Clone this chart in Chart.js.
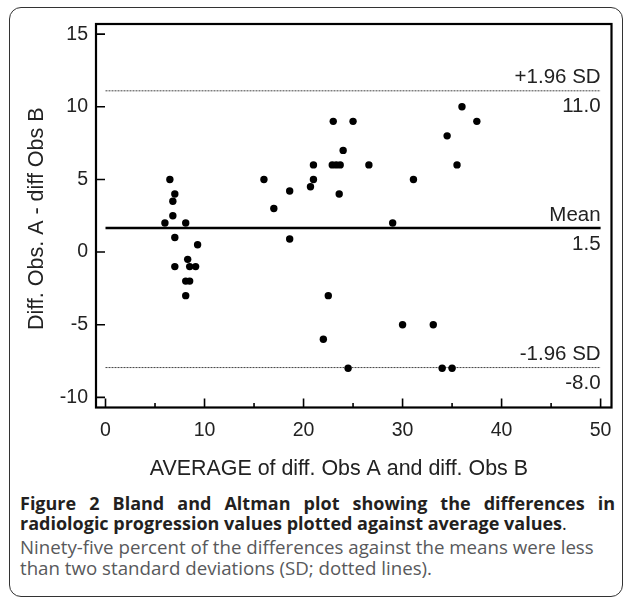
<!DOCTYPE html>
<html>
<head>
<meta charset="utf-8">
<script src="https://cdn.jsdelivr.net/npm/chart.js@4.4.0/dist/chart.umd.min.js"></script>
<style>
  html, body { margin: 0; padding: 0; background: #fff; }
  body { width: 627px; height: 600px; position: relative; overflow: hidden; }
  #frame {
    position: absolute; left: 9px; top: 7px; width: 614px; height: 590px;
    border: 1.5px solid #333; border-radius: 12px; box-sizing: border-box;
  }
  #chartBox { position: absolute; left: 0; top: 0; width: 627px; height: 490px; }
  .cap {
    position: absolute; left: 20px; white-space: nowrap;
    font-family: "Open Sans", sans-serif; line-height: 20px;
  }
  .bold { font-weight: 700; color: #231f20; font-size: 18px; }
  .reg { font-weight: 400; color: #58595b; font-size: 18.7px; }
  .just { width: 595px; text-align: justify; text-align-last: justify; }
</style>
</head>
<body>
<div id="frame"></div>
<div id="chartBox"><canvas id="baPlot" width="627" height="490"></canvas></div>
<div class="cap bold just" style="top:493px">Figure 2 Bland and Altman plot showing the differences in</div>
<div class="cap bold" style="top:513px">radiologic progression values plotted against average values<span style="font-weight:400">.</span></div>
<div class="cap reg" style="top:537px">Ninety-five percent of the differences against the means were less</div>
<div class="cap reg" style="top:558px">than two standard deviations (SD; dotted lines).</div>
<script>
// Bland-Altman data
const avgValues = [6.5, 7, 6.8, 6.8, 6, 8.1, 7, 9.3, 8.3, 7, 8.5, 9.1, 8.1, 8.5, 8.1,
    16, 17, 18.6, 18.6, 20.7, 21, 21, 23, 24, 22.9, 23.3, 23.7, 23.6, 22.5, 22, 24.5,
    25, 26.6, 31.1, 29, 30, 33.1, 34, 35, 36, 37.5, 34.5, 35.5];
const diffValues = [5, 4, 3.5, 2.5, 2, 2, 1, 0.5, -0.5, -1, -1, -1, -2, -2, -3,
    5, 3, 4.2, 0.9, 4.5, 5, 6, 9, 7, 6, 6, 6, 4, -3, -6, -8,
    9, 6, 5, 2, -5, -5, -8, -8, 10, 9, 8, 6];

const xTicks = [0, 10, 20, 30, 40, 50];
const xMinorTicks = [5, 15, 25, 35, 45];
const yTicks = [-10, -5, 0, 5, 10, 15];

const limitValues = [11.1, 1.65, -7.95];
const limitNames = ['+1.96 SD', 'Mean', '-1.96 SD'];
const limitTexts = ['11.0', '1.5', '-8.0'];

const chartFont = '"Liberation Sans", Arial, sans-serif';

function limitLine(v, solid) {
    return {
        type: 'line',
        data: [{ x: xTicks[0], y: v }, { x: xTicks[xTicks.length - 1], y: v }],
        borderColor: solid ? '#000' : '#444',
        borderWidth: solid ? 2.5 : 1,
        borderDash: solid ? [] : [2, 1],
        pointRadius: 0,
        fill: false
    };
}

// frame, inner tick marks and line labels
const framePlugin = {
    id: 'frame',
    afterDatasetsDraw(chart) {
        const { ctx, chartArea: a, scales: { x, y } } = chart;
        ctx.save();
        ctx.strokeStyle = '#000';
        ctx.lineWidth = 2.2;
        ctx.strokeRect(a.left, a.top, a.right - a.left, a.bottom - a.top);
        ctx.lineWidth = 1.6;
        ctx.beginPath();
        yTicks.forEach(v => {
            const py = y.getPixelForValue(v);
            ctx.moveTo(a.left, py);
            ctx.lineTo(a.left + 9, py);
        });
        xTicks.forEach(v => {
            const px = x.getPixelForValue(v);
            ctx.moveTo(px, a.bottom);
            ctx.lineTo(px, a.bottom - 9);
        });
        xMinorTicks.forEach(v => {
            const px = x.getPixelForValue(v);
            ctx.moveTo(px, a.bottom);
            ctx.lineTo(px, a.bottom - 4.5);
        });
        ctx.stroke();

        ctx.fillStyle = '#222';
        ctx.font = '20.5px ' + chartFont;
        ctx.textAlign = 'right';
        ctx.textBaseline = 'middle';
        const rx = x.getPixelForValue(xTicks[xTicks.length - 1]);
        limitValues.forEach((v, i) => {
            const py = y.getPixelForValue(v);
            ctx.fillText(limitNames[i], rx, py - 13);
            ctx.fillText(limitTexts[i], rx, py + 16);
        });
        ctx.restore();
    }
};

const ctx = document.getElementById('baPlot').getContext('2d');
new Chart(ctx, {
    type: 'scatter',
    data: {
        datasets: [
            {
                label: 'Differences',
                data: avgValues.map((v, i) => ({ x: v, y: diffValues[i] })),
                backgroundColor: '#000',
                borderColor: '#000',
                pointRadius: 3.7,
                borderWidth: 0
            },
            limitLine(limitValues[0], false),
            limitLine(limitValues[1], true),
            limitLine(limitValues[2], false)
        ]
    },
    options: {
        responsive: false,
        animation: false,
        layout: { padding: { left: 0, right: 15.5, top: 24, bottom: 0 } },
        plugins: { legend: { display: false }, tooltip: { enabled: false } },
        scales: {
            x: {
                type: 'linear',
                min: -0.96,
                max: 51.1,
                afterBuildTicks: s => { s.ticks = xTicks.map(v => ({ value: v })); },
                afterFit: s => { s.height = 82.5; },
                grid: { display: false, drawTicks: false },
                border: { display: false },
                ticks: { color: '#222', font: { family: chartFont, size: 19.5 }, padding: 11, maxRotation: 0 },
                title: {
                    display: true,
                    // trailing spaces nudge the centred title left, as in the figure
                    text: 'AVERAGE of diff. Obs A and diff. Obs B\u00a0\u00a0\u00a0\u00a0\u00a0',
                    color: '#222',
                    font: { family: chartFont, size: 21.4 },
                    padding: { top: 0, bottom: 8.2 }
                }
            },
            y: {
                type: 'linear',
                min: -10.7,
                max: 15.7,
                afterBuildTicks: s => { s.ticks = yTicks.map(v => ({ value: v })); },
                afterFit: s => { s.width = 96; },
                grid: { display: false, drawTicks: false },
                border: { display: false },
                ticks: { color: '#222', font: { family: chartFont, size: 19.5 }, padding: 8 },
                title: {
                    display: true,
                    text: 'Diff. Obs. A - diff Obs B\u00a0',
                    color: '#222',
                    font: { family: chartFont, size: 21.5 },
                    padding: { top: 24.1, bottom: 0 }
                }
            }
        }
    },
    plugins: [framePlugin]
});
</script>
</body>
</html>
